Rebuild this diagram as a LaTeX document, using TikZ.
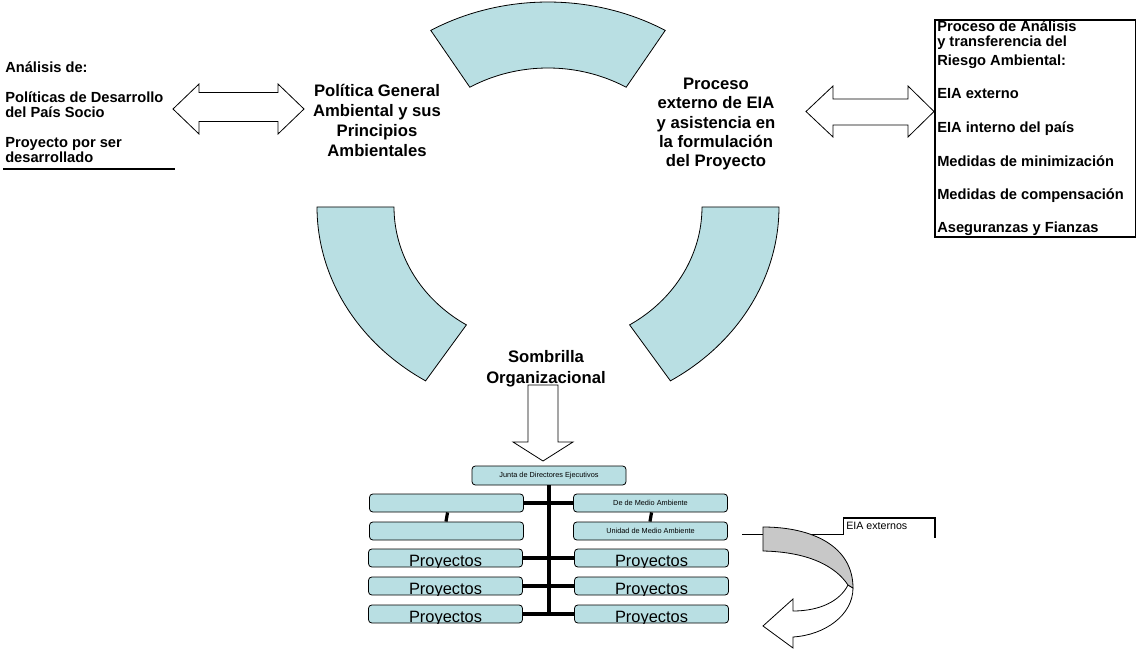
\documentclass[tikz,border=0pt]{standalone}
\usepackage{fontspec}
\setmainfont{Liberation Sans}
\begin{document}
\begin{tikzpicture}[x=0.75pt,y=-0.75pt,line join=miter]
\definecolor{ringblue}{HTML}{B9DFE3}
\definecolor{arrgrey}{HTML}{C8C8C8}
\tikzset{
  ringseg/.style={fill=ringblue,draw=black,line width=0.6pt},
  blockarrow/.style={fill=white,draw=black,line width=0.6pt},
  bigtxt/.style={font=\fontsize{12.5}{15}\selectfont\bfseries,align=center,inner sep=0pt},
  sidetxt/.style={font=\fontsize{11}{12}\selectfont\bfseries,anchor=base west,inner sep=0pt},
  orgbox/.style={draw=black,fill=ringblue,rounded corners=2.5pt,line width=0.6pt,
    minimum width=115.5pt,minimum height=13.5pt,inner sep=0pt,
    font=\fontsize{5.5}{6}\selectfont},
  projbox/.style={orgbox,path picture={
    \node[anchor=base,inner sep=0pt,font=\fontsize{12.3}{14}\selectfont]
      at ([yshift=0.6pt]path picture bounding box.south) {Proyectos};}},
  orgline/.style={line width=2.4pt,line cap=rect},
}
\useasboundingbox (0,0) rectangle (1136,649);

% ring segments
\draw[ringseg] plot[domain=59.5:120.5,samples=40] ({548+231*cos(\x)},{207-205*sin(\x)})
  -- plot[domain=120.5:59.5,samples=40] ({548+154*cos(\x)},{207-139*sin(\x)}) -- cycle;
\draw[ringseg] plot[domain=180:238,samples=40] ({548+231*cos(\x)},{207-205*sin(\x)})
  -- plot[domain=238:180,samples=40] ({548+154*cos(\x)},{207-139*sin(\x)}) -- cycle;
\draw[ringseg] plot[domain=302:360,samples=40] ({548+231*cos(\x)},{207-205*sin(\x)})
  -- plot[domain=360:302,samples=40] ({548+154*cos(\x)},{207-139*sin(\x)}) -- cycle;

% titles
\node[bigtxt] (pol) at (377,120) {Política General\\Ambiental y sus\\Principios\\Ambientales};
\node[bigtxt,font=\fontsize{12.5}{14.5}\selectfont\bfseries] (proc) at (716,124) {Proceso\\externo de EIA\\y asistencia en\\la formulación\\del Proyecto};

% double arrows
\draw[blockarrow] (173,109) -- (199,84) -- (199,92.5) -- (278,92.5) -- (278,84) -- (304,109)
  -- (278,134) -- (278,121.5) -- (199,121.5) -- (199,134) -- cycle;
\draw[blockarrow] (806,111.5) -- (833,86) -- (833,99) -- (908,99) -- (908,86) -- (934,111.5)
  -- (908,137) -- (908,125) -- (833,125) -- (833,137) -- cycle;

% left text
\node[sidetxt] (t1) at (5,73) {Análisis de:};
\node[sidetxt] (t2) at (5,103) {Políticas de Desarrollo};
\node[sidetxt] (t3) at (5,118) {del País Socio};
\node[sidetxt] (t4) at (5,148) {Proyecto por ser};
\node[sidetxt] (t5) at (5,163) {desarrollado};
\coordinate (ulA) at (3,169);
\coordinate (ulB) at (175,169);
\draw[line width=1.5pt] (ulA) -- (ulB);

% right box
\node[draw=black,line width=1.5pt,minimum width=150.4pt,minimum height=162.75pt,inner sep=0pt,anchor=north west] (rbox) at (934,19) {};
\node[sidetxt] (r1) at (937,32) {Proceso de Análisis};
\node[sidetxt] (r2) at (937,47) {y transferencia del};
\node[sidetxt] (r3) at (937,66) {Riesgo Ambiental:};
\node[sidetxt] (r4) at (937,99) {EIA externo};
\node[sidetxt] (r5) at (937,133) {EIA interno del país};
\node[sidetxt] (r6) at (937,167) {Medidas de minimización};
\node[sidetxt] (r7) at (937,200) {Medidas de compensación};
\node[sidetxt] (r8) at (937,233) {Aseguranzas y Fianzas};

% down arrow
\draw[blockarrow] (528,385) -- (558,385) -- (558,442) -- (573,442) -- (543,461) -- (513,442) -- (528,442) -- cycle;
\node[bigtxt,font=\fontsize{12.5}{15.75}\selectfont\bfseries] (somb) at (546,369) {Sombrilla\\Organizacional};

% org chart
\node[orgbox,minimum height=14.25pt] (junta) at (549,475.5) {Junta de Directores Ejecutivos};
\node[orgbox] (L1) at (446.5,503) {};
\node[orgbox] (R1) at (650.5,503) {De de Medio Ambiente};
\node[orgbox] (L2) at (446.5,531) {};
\node[orgbox] (R2) at (650.5,531) {Unidad de Medio Ambiente};
\node[projbox] (L3) at (445.5,558) {};
\node[projbox] (R3) at (651.5,558) {};
\node[projbox] (L4) at (445.5,586) {};
\node[projbox] (R4) at (651.5,586) {};
\node[projbox] (L5) at (445.5,614) {};
\node[projbox] (R5) at (651.5,614) {};
\coordinate (trunkend) at (549,614);
\draw[orgline,line cap=butt] (junta.south) -- (trunkend);
\draw[orgline,line cap=butt] (L1.east) -- (R1.west);
\draw[orgline,line cap=butt] (L3.east) -- (R3.west);
\draw[orgline,line cap=butt] (L4.east) -- (R4.west);
\draw[orgline,line cap=butt] (L5.east) -- (R5.west);
\draw[orgline,line cap=butt] ([xshift=0.8pt]L1.south) -- ([xshift=-0.4pt]L2.north);
\draw[orgline,line cap=butt] ([xshift=0.8pt]R1.south) -- ([xshift=-0.4pt]R2.north);

% EIA externos box and curved arrow
\coordinate (lnA) at (742,534);
\coordinate (lnB) at (843,534);
\coordinate (bxTL) at (843,518);
\coordinate (bxTR) at (935,518);
\coordinate (bxBR) at (935,537.5);
\draw[line width=0.6pt] (lnA) -- (lnB) -- (bxTL);
\draw[line width=2.2pt] (bxTL) -- (bxTR) -- (bxBR);
\node[anchor=base west,inner sep=0pt,font=\fontsize{8}{9}\selectfont] (eia) at (846,529.5) {EIA externos};

\draw[blockarrow] (848,585) .. controls (840,601) and (820,611) .. (793,611) -- (793,599) -- (763,626)
  -- (793,648) -- (793,637) .. controls (825,635) and (853,615) .. (853,588) -- cycle;
\draw[fill=arrgrey,draw=black,line width=0.6pt] (763,527) .. controls (812,527) and (853,546) .. (853,588)
  -- (848,585) .. controls (836,567) and (810,552) .. (763,551) -- cycle;
\end{tikzpicture}
\end{document}
